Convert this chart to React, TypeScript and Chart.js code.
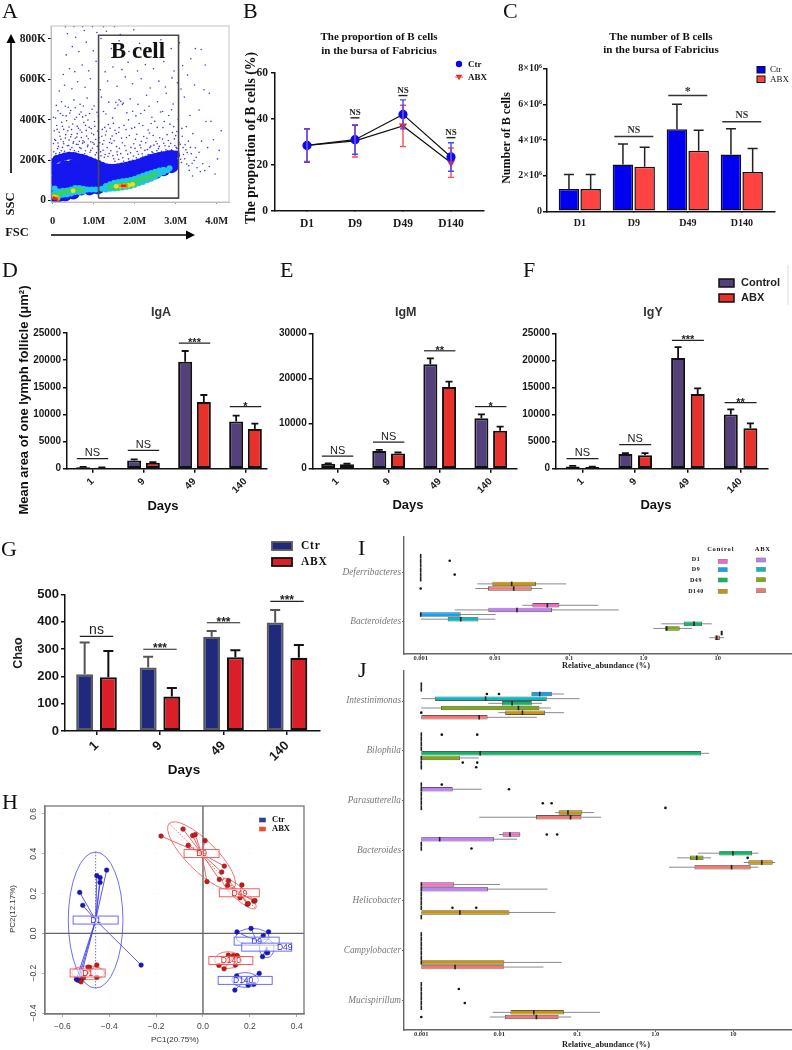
import React, { useEffect, useRef } from 'react';
import { Chart, registerables, CategoryScale } from 'chart.js';

Chart.register(...registerables);

// Category scale whose bands can be placed independently of the axis extent.
class PinnedCategory extends (CategoryScale as any) {
  static id = 'pinnedCategory';
  static defaults = (CategoryScale as any).defaults;
  configure() {
    super.configure();
    const o = (this as any).options;
    if (o.startVal !== undefined) {
      (this as any)._startValue = o.startVal;
      (this as any)._valueRange = o.rangeVal;
    }
  }
}
Chart.register(PinnedCategory as any);

const SERIF = '"Liberation Serif"';
const SANS = '"Liberation Sans"';

/* ---------- Panel A: flow cytometry ---------- */
const gateFSC = [1.12, 3.07, 3.07, 1.12, 1.12];
const gateSSC = [12, 12, 818, 818, 12];
const redCore = [[1.7, 73], [1.76, 73], [0.05, 9], [0.09, 8], [0.03, 14]];
const orangeCore = [[1.65, 72], [1.72, 72], [1.8, 74], [0.04, 12], [0.1, 12], [0.14, 8]];
const yellowCore = [[1.55, 70], [1.65, 70], [1.75, 72], [1.85, 75], [1.95, 80], [0.04, 18], [0.1, 14], [0.5, 48]];
const greenCore = [[0.3, 45], [0.4, 48], [0.5, 52], [0.6, 52], [0.7, 52], [0.05, 30], [0.12, 25], [0.2, 35], [1.4, 68], [1.5, 72], [1.6, 76], [1.7, 80], [1.8, 82], [1.9, 88], [2.0, 93], [2.1, 100], [2.2, 108], [2.3, 114], [2.4, 122], [2.5, 130], [1.5, 65], [1.6, 65], [1.7, 68], [1.8, 70], [1.9, 75], [2.0, 80]];
const cyanCore = [[0.05, 60], [0.05, 35], [0.15, 45], [0.15, 22], [0.25, 48], [0.25, 28], [0.35, 50], [0.35, 30], [0.45, 55], [0.45, 35], [0.55, 62], [0.55, 42], [0.65, 62], [0.65, 42], [0.75, 58], [0.75, 45], [0.85, 55], [0.95, 55], [1.05, 55], [1.2, 58], [1.3, 55], [1.3, 72], [1.4, 58], [1.4, 80], [1.5, 60], [1.5, 88], [1.6, 62], [1.6, 92], [1.7, 65], [1.7, 95], [1.8, 68], [1.8, 98], [1.9, 72], [1.9, 102], [2.0, 78], [2.0, 108], [2.1, 85], [2.1, 115], [2.2, 92], [2.2, 122], [2.3, 100], [2.3, 130], [2.4, 108], [2.4, 136], [2.5, 118], [2.5, 142], [2.6, 130], [2.6, 148], [2.7, 140], [2.7, 152], [2.8, 150], [2.85, 160]];
const blueEdge = [[0.0, 190], [0.1, 205], [0.2, 212], [0.3, 218], [0.4, 222], [0.5, 220], [0.6, 215], [0.7, 212], [0.8, 205], [0.9, 198], [1.0, 190], [1.1, 182], [1.2, 172], [1.3, 165], [1.4, 162], [1.5, 162], [1.6, 165], [1.7, 168], [1.8, 172], [1.9, 178], [2.0, 182], [2.1, 188], [2.2, 195], [2.3, 203], [2.4, 210], [2.5, 216], [2.6, 220], [2.7, 224], [2.8, 228], [2.9, 230], [3.0, 228]];
const blueCore = [[0.1, 150], [0.1, 100], [0.1, 50], [0.1, 20], [0.3, 165], [0.3, 110], [0.3, 60], [0.3, 30], [0.5, 170], [0.5, 115], [0.5, 60], [0.5, 40], [0.7, 165], [0.7, 110], [0.7, 60], [0.9, 155], [0.9, 105], [0.9, 60], [1.1, 140], [1.1, 95], [1.1, 65], [1.3, 125], [1.3, 85], [1.5, 125], [1.5, 85], [1.7, 130], [1.7, 95], [1.9, 140], [1.9, 105], [2.1, 150], [2.1, 115], [2.3, 165], [2.3, 125], [2.5, 175], [2.5, 140], [2.7, 185], [2.7, 155], [2.9, 190], [2.9, 170]];
const fuzzEvents = [
  [0.03, 241], [0.12, 257], [0.17, 236], [0.24, 263], [0.29, 244], [0.36, 271], [0.41, 238], [0.47, 262], [0.53, 247], [0.58, 278], [0.63, 243], [0.69, 258], [0.73, 284], [0.8, 246], [0.85, 267], [0.91, 239], [0.97, 259], [1.01, 279], [1.07, 237], [1.12, 254], [1.18, 221], [1.23, 249], [1.28, 228], [1.35, 218], [1.42, 246], [1.47, 222], [1.52, 194], [1.57, 241], [1.61, 203], [1.66, 232], [1.73, 194], [1.79, 247], [1.85, 206], [1.9, 236], [1.95, 199], [2.01, 258], [2.04, 212], [2.09, 229], [2.15, 261], [2.2, 219], [2.25, 248], [2.33, 227], [2.37, 262], [2.42, 241], [2.47, 274], [2.54, 246], [2.6, 268], [2.65, 244], [2.71, 283], [2.76, 251], [2.84, 268], [2.9, 251], [2.98, 272], [3.03, 258], [3.09, 221], [3.14, 188], [3.18, 262], [3.22, 207], [3.28, 238], [3.32, 172],
  [0.02, 282], [0.07, 297], [0.13, 285], [0.2, 303], [0.26, 291], [0.32, 326], [0.4, 299], [0.44, 316], [0.5, 284], [0.55, 308], [0.6, 331], [0.65, 293], [0.7, 312], [0.77, 289], [0.82, 347], [0.87, 306], [0.93, 291], [1.0, 326], [1.05, 302], [1.1, 344], [1.15, 286], [1.2, 318], [1.25, 297], [1.31, 343], [1.39, 287], [1.45, 319], [1.5, 296], [1.56, 267], [1.61, 338], [1.7, 286], [1.8, 312], [1.98, 281], [2.05, 328], [2.16, 293], [2.3, 308], [2.45, 322], [2.55, 281], [2.68, 304], [2.82, 297], [2.92, 337], [3.0, 321], [3.11, 278], [3.25, 251], [3.36, 263], [3.4, 184], [3.5, 214],
  [0.04, 345], [0.1, 371], [0.16, 338], [0.22, 387], [0.27, 352], [0.34, 395], [0.4, 364], [0.46, 351], [0.54, 402], [0.6, 367], [0.67, 349], [0.73, 414], [0.8, 372], [0.86, 398], [0.94, 356], [1.03, 368], [1.12, 389], [1.27, 362], [1.4, 358], [1.48, 382], [1.62, 361], [1.79, 351], [1.85, 399], [2.0, 362], [2.2, 371], [2.4, 381], [2.55, 362], [2.72, 391], [2.95, 366], [3.15, 357],
  [0.02, 412], [0.13, 444], [0.25, 421], [0.31, 467], [0.42, 433], [0.55, 459], [0.65, 427], [0.75, 468], [0.9, 431], [1.08, 437], [1.3, 428], [1.52, 456], [1.62, 498], [1.7, 476], [1.95, 442], [2.15, 431], [2.35, 467], [2.68, 441], [2.9, 449],
];
const sparseEvents = [
  [0.08, 232], [0.21, 246], [0.34, 228], [0.43, 252], [0.57, 239], [0.66, 262], [0.78, 231], [0.93, 248], [1.04, 226], [1.17, 241], [1.26, 214], [1.38, 233], [1.49, 207], [1.58, 226], [1.71, 212], [1.83, 229], [1.97, 220], [2.06, 243], [2.18, 231], [2.31, 252], [2.44, 238], [2.58, 257], [2.67, 229], [2.81, 246], [2.93, 222], [3.04, 239], [3.12, 204], [3.19, 228], [3.27, 181], [3.33, 149],
  [0.14, 268], [0.27, 281], [0.39, 272], [0.51, 291], [0.62, 277], [0.74, 296], [0.86, 274], [0.98, 287], [1.09, 268], [1.22, 279], [1.33, 262], [1.44, 283], [1.63, 259], [1.76, 271], [1.91, 263], [2.13, 274], [2.27, 286], [2.39, 269], [2.52, 292], [2.74, 271], [2.88, 283], [3.01, 263], [3.23, 276], [3.38, 231], [3.45, 198], [3.52, 162], [3.6, 143], [3.41, 121],
  [0.05, 302], [0.18, 318], [0.31, 309], [0.46, 327], [0.59, 314], [0.71, 338], [0.83, 319], [0.95, 333], [1.13, 311], [1.29, 324], [1.41, 305], [1.55, 331], [1.68, 309], [1.87, 322], [2.02, 303], [2.22, 317], [2.36, 334], [2.61, 311], [2.79, 326], [2.97, 305], [3.08, 287], [3.16, 318], [3.31, 294], [3.48, 261], [3.57, 239], [3.66, 182], [3.71, 148], [3.82, 168], [3.96, 131], [4.02, 206],
  [0.11, 352], [0.24, 368], [0.37, 345], [0.49, 379], [0.63, 358], [0.76, 386], [0.89, 362], [1.02, 391], [1.21, 352], [1.36, 376], [1.52, 348], [1.74, 372], [1.93, 357], [2.11, 381], [2.33, 349], [2.49, 392], [2.69, 361], [2.86, 378], [3.03, 342], [3.26, 366], [3.42, 331], [3.63, 294], [3.78, 262], [3.92, 301], [4.06, 248], [4.11, 345], [3.86, 392],
  [0.07, 408], [0.19, 431], [0.33, 419], [0.44, 446], [0.58, 412], [0.69, 438], [0.81, 421], [0.96, 452], [1.11, 417], [1.24, 441], [1.46, 409], [1.59, 473], [1.66, 491], [1.54, 486], [1.72, 482], [1.81, 434], [2.03, 419], [2.24, 447], [2.42, 412], [2.63, 438], [2.83, 421], [3.06, 402], [3.35, 421], [3.57, 448], [3.74, 391],
  [0.09, 471], [0.22, 489], [0.38, 462], [0.52, 498], [0.67, 476], [0.84, 507], [1.01, 468], [1.19, 512], [1.37, 487], [1.89, 503], [2.08, 476], [2.29, 521], [2.56, 489], [2.77, 531], [2.94, 478], [3.21, 512], [3.69, 548], [3.82, 531], [3.46, 572],
  [0.16, 542], [0.29, 571], [0.47, 553], [0.61, 588], [0.79, 561], [0.92, 603], [1.16, 548], [1.34, 592], [1.57, 566], [1.77, 612], [1.95, 578], [2.16, 603], [2.38, 557], [2.59, 591], [2.75, 562], [2.91, 607], [3.04, 583], [3.29, 621], [3.13, 552],
  [0.26, 624], [0.41, 652], [0.54, 638], [0.72, 671], [0.88, 642], [1.06, 689], [1.28, 637], [1.47, 661], [1.69, 648], [1.84, 684], [2.07, 641], [2.26, 673], [2.46, 652], [2.71, 688], [2.96, 641], [3.17, 668], [3.37, 702], [3.72, 671],
  [0.33, 721], [0.48, 762], [0.64, 738], [0.82, 784], [0.99, 741], [1.18, 802], [1.43, 752], [1.62, 791], [1.86, 738], [2.12, 778], [2.35, 745], [2.64, 796], [2.89, 752], [3.09, 781], [3.48, 752], [3.62, 748],
  [0.36, 826], [0.56, 808], [0.77, 842], [1.08, 832], [1.31, 838], [1.65, 822], [1.98, 845], [0.31, 860], [0.52, 861], [0.73, 860], [0.97, 861], [1.24, 860], [1.51, 861],
];

/* ---------- Panel B ---------- */
const dayLabels = ['D1', 'D9', 'D49', 'D140'];
const propCtr = [28.5, 31, 42, 23.5];
const propAbx = [28.5, 30.5, 37, 21];
const propCtrErr = [7.3, 6.3, 6.3, 6.2];
const propAbxErr = [7, 7, 9, 6.4];
const propSig = [[1, 40.5, 4.5, 'NS'], [2, 50.2, 4.5, 'NS'], [3, 31.9, 4.5, 'NS']];
const propTicks = [0, 20, 40, 60];

/* ---------- Panel C ---------- */
const numCtr = [1.25, 2.62, 4.6, 3.18];
const numAbx = [1.25, 2.5, 3.4, 2.2];
const numCtrErr = [0.81, 1.15, 1.4, 1.45];
const numAbxErr = [0.81, 1.09, 1.14, 1.33];
const numSig = [[1, 4.19, 19.5, 'NS'], [2, 6.49, 19.5, '*'], [3, 5.03, 19.5, 'NS']];
const numTickLabels: Record<number, string> = { 0: '0', 2: '2×10⁶', 4: '4×10⁶', 6: '6×10⁶', 8: '8×10⁶' };

/* ---------- Panels D, E, F ---------- */
const followDays = ['1', '9', '49', '140'];
const igaCtl = [250, 1500, 19700, 8700];
const igaAbx = [180, 1100, 12300, 7300];
const igaCtlErr = [100, 200, 1980, 1066];
const igaAbxErr = [80, 120, 1275, 1000];
const igaSig = [[0, 1840, 15.7, 'NS'], [1, 3380, 15.7, 'NS'], [2, 23150, 15.7, '***'], [3, 11420, 15.7, '*']];
const igmCtl = [1100, 3930, 23200, 11200];
const igmAbx = [1000, 3400, 18150, 8440];
const igmCtlErr = [100, 270, 1300, 870];
const igmAbxErr = [100, 200, 1180, 890];
const igmSig = [[0, 2800, 15.7, 'NS'], [1, 5900, 15.7, 'NS'], [2, 26200, 15.7, '**'], [3, 13800, 15.7, '*']];
const igyCtl = [430, 2700, 20500, 10060];
const igyAbx = [300, 2470, 13830, 7470];
const igyCtlErr = [100, 200, 2000, 930];
const igyAbxErr = [80, 400, 1050, 930];
const igySig = [[0, 1850, 16, 'NS'], [1, 4440, 16, 'NS'], [2, 23770, 16, '***'], [3, 12220, 16, '**']];

/* ---------- Panel G ---------- */
const chaoCtr = [208, 232, 345, 397];
const chaoAbx = [197, 126, 270, 268];
const chaoCtrErr = [116, 40, 21, 46];
const chaoAbxErr = [96, 31, 25, 47];
const chaoSig = [[0, 346, 16.7, 'ns'], [1, 299, 16.7, '***'], [2, 396, 16.7, '***'], [3, 474, 16.7, '***']];

/* ---------- Panel H: PCA ---------- */
const pcaCtrD1 = [[-0.411, 0.318], [-0.453, 0.29], [-0.439, 0.28], [-0.439, 0.256], [-0.526, 0.206], [-0.513, 0.141], [-0.264, -0.159], [-0.533, -0.235], [-0.526, -0.238], [-0.54, -0.231]];
const pcaAbxD1 = [[-0.453, -0.159], [-0.484, -0.171], [-0.51, -0.223], [-0.52, -0.243], [-0.453, -0.221], [-0.49, -0.17]];
const pcaAbxD9 = [[-0.179, 0.489], [-0.085, 0.524], [-0.044, 0.491], [-0.033, 0.496], [-0.063, 0.442], [0.009, 0.466], [0.091, 0.338], [0.08, 0.308], [0.07, 0.271], [0.017, 0.26]];
const pcaAbxD49 = [[0.109, 0.265], [0.105, 0.241], [0.166, 0.243], [0.158, 0.179], [0.189, 0.146], [0.193, 0.149], [0.217, 0.162], [0.222, 0.164]];
const pcaCtrD9 = [[0.145, 0.007], [0.205, 0.025], [0.257, -0.012], [0.28, 0.008]];
const pcaCtrD49 = [[0.254, -0.117], [0.272, -0.097], [0.276, -0.097]];
const pcaAbxD140 = [[0.108, -0.109], [0.146, -0.112], [0.068, -0.161], [0.09, -0.178], [0.138, -0.159], [0.129, -0.112]];
const pcaCtrD140 = [[0.24, -0.201], [0.136, -0.285], [0.193, -0.26], [0.144, -0.214], [0.217, -0.256]];
// centre x, centre y, semi-axis (x units), semi-axis (y units), tilt in degrees
const pcaEllipseD1Ctr = [-0.458, 0.067, 0.1166, 0.342, 0];
const pcaEllipseD1Abx = [-0.49, -0.198, 0.07, 0.035, 0];
const pcaEllipseD9Abx = [-0.006, 0.39, 0.195, 0.075, 45];
const pcaEllipseD49Abx = [0.155, 0.2, 0.094, 0.03, 42];
const pcaEllipseD9Ctr = [0.211, -0.017, 0.071, 0.042, 0];
const pcaEllipseD49Ctr = [0.272, -0.075, 0.031, 0.047, 0];
const pcaEllipseD140Abx = [0.107, -0.134, 0.057, 0.042, 0];
const pcaEllipseD140Ctr = [0.18, -0.234, 0.057, 0.037, 0];
const pcaCentres: [string, number, number, number, string, number?][] = [
  ['D1', -0.458, 0.067, 45, 'b'],
  ['D1', -0.492, -0.199, 35, 'r'],
  ['D9', -0.006, 0.401, 35, 'r'],
  ['D49', 0.155, 0.204, 40, 'r'],
  ['D9', 0.229, -0.039, 45, 'b'],
  ['D49', 0.272, -0.069, 50, 'b', 18],
  ['D140', 0.119, -0.136, 44, 'r'],
  ['D140', 0.18, -0.236, 54, 'b', -2],
];
const pcaYTicks = [0.6, 0.4, 0.2, 0, -0.2, -0.4];

/* ---------- Panels I, J: box plots. [whisker low, Q1, median, Q3, whisker high, outliers?] ---------- */
const absent = [0.001, 0.001, 0.001, 0.001, 0.001];
const groupNames = ['D1 Control', 'D1 ABX', 'D9 Control', 'D9 ABX', 'D49 Control', 'D49 ABX', 'D140 Control', 'D140 ABX'];
const groupColors = ['#FF61CC', '#C77CFF', '#00A9FF', '#00BFC4', '#00BE67', '#7CAE00', '#CD9600', '#F8766D'];

const phylaNames = ['Deferribacteres', 'Bacteroidetes'];
const phylaD1Ctl = [absent, [0.0234, 0.0319, 0.0508, 0.0738, 0.247]];
const phylaD1Abx = [[0.001, 0.001, 0.001, 0.001, 0.001, [0.00246]], [0.00287, 0.00815, 0.0198, 0.0587, 0.465]];
const phylaD9Ctl = [absent, [0.001, 0.001, 0.001, 0.00346, 0.0102]];
const phylaD9Abx = [absent, [0.001, 0.00231, 0.00346, 0.00598, 0.0101]];
const phylaD49Ctl = [[0.001, 0.001, 0.001, 0.001, 0.001, [0.00287]], [1.74, 3.48, 4.8, 6.15, 8.3]];
const phylaD49Abx = [absent, [1.36, 1.95, 2.06, 3.08, 4.5]];
const phylaD140Ctl = [[0.0058, 0.00923, 0.0168, 0.0357, 0.0906], [11.3, 10.9, 11.3, 11.7, 11.3]];
const phylaD140Abx = [[0.00544, 0.00807, 0.0179, 0.0313, 0.0436, [0.001]], [7.7, 9.1, 9.7, 10.7, 12.2]];

const genusNames = ['Intestinimonas', 'Bilophila', 'Parasutterella', 'Bacteroides', 'Helicobacter', 'Campylobacter', 'Mucispirillum'];
const genusD1Ctl = [absent, [0.001, 0.001, 0.001, 0.001, 0.001, [0.00183, 0.00521]], [0.001, 0.001, 0.001, 0.001, 0.001, [0.00183]], [0.00991, 0.011, 0.0137, 0.0186, 0.0186, [0.0406, 0.0552]], [0.001, 0.001, 0.001, 0.00264, 0.0102], absent, absent];
const genusD1Abx = [absent, absent, [0.001, 0.001, 0.001, 0.00253, 0.00593, [0.0133]], [0.001, 0.001, 0.00172, 0.00853, 0.0169], [0.001, 0.001, 0.001, 0.00714, 0.0415], absent, [0.001, 0.001, 0.001, 0.001, 0.001, [0.00303]]];
const genusD9Ctl = [[0.0258, 0.0258, 0.033, 0.0472, 0.0673, [0.00693, 0.00991]], absent, absent, absent, absent, absent, absent];
const genusD9Abx = [[0.001, 0.00149, 0.00667, 0.0406, 0.107], absent, absent, [0.001, 0.001, 0.001, 0.001, 0.001, [0.0044]], absent, absent, absent];
const genusD49Ctl = [[0.00721, 0.0108, 0.0146, 0.0261, 0.0351], [0.001, 0.001, 0.00569, 3.87, 4.91], [0.001, 0.001, 0.001, 0.001, 0.001, [0.0361, 0.0468]], [3.54, 6.6, 9.9, 17.4, 21], absent, absent, [0.001, 0.001, 0.001, 0.001, 0.001, [0.00361]]];
const genusD49Abx = [[0.001, 0.00179, 0.0176, 0.0327, 0.0458], [0.001, 0.001, 0.001, 0.00315, 0.00547], [0.001, 0.001, 0.001, 0.001, 0.001, [1.35]], [1.9, 2.79, 3.4, 4.15, 5.2, [15.3]], [0.001, 0.001, 0.001, 0.001, 0.001, [0.00251, 0.00506]], absent, absent];
const genusD140Ctl = [[0.00971, 0.0119, 0.0198, 0.0387, 0.0673, [0.001]], [0.001, 0.001, 0.001, 0.001, 0.001, [0.0034, 0.00521]], [0.0521, 0.0575, 0.0759, 0.116, 0.164], [13.6, 15.6, 23.2, 32, 34.4], [0.001, 0.001, 0.00312, 0.0135, 0.0526], [0.001, 0.001, 0.001, 0.0116, 0.0628], [0.0082, 0.0139, 0.0277, 0.0673, 0.196]];
const genusD140Abx = [[0.001, 0.001, 0.00552, 0.00708, 0.0303], [0.001, 0.001, 0.001, 0.001, 0.001, [0.00506]], [0.00552, 0.0296, 0.082, 0.113, 0.202], [1.5, 3.18, 9.5, 16.7, 21], absent, [0.001, 0.001, 0.00271, 0.0114, 0.0369], [0.00759, 0.0118, 0.0299, 0.0575, 0.0837, [0.001]]];

const abundanceTicks = [0.001, 0.01, 0.1, 1, 10];
const abundanceLabels = ['0.001', '0.01', '0.1', '1.0', '10'];

/* ---------- helpers ---------- */
type Rect = { x: number; y: number; w: number; h: number };

const T = (text: string, x: number, y: number, font: string, o: any = {}) => ({ k: 't', text, x, y, font, ...o });
const L = (x1: number, y1: number, x2: number, y2: number, color = '#111', w = 1) => ({ k: 'l', x1, y1, x2, y2, color, w });
const B = (x: number, y: number, w: number, h: number, fill: string, stroke: string, lw = 1.5) => ({ k: 'r', x, y, w, h, fill, stroke, lw });
const Arrow = (x1: number, y1: number, x2: number, y2: number) => ({ k: 'a', x1, y1, x2, y2 });
const Mark = (shape: string, x: number, y: number, r: number, color: string) => ({ k: 'm', shape, x, y, r, color });
const letter = (s: string, x: number, y: number) => T(s, x, y, `22px ${SERIF}`, { align: 'left' });

function drawDeco(ctx: CanvasRenderingContext2D, rect: Rect, items: any[]) {
  ctx.save();
  ctx.translate(-rect.x, -rect.y);
  for (const d of items) {
    ctx.save();
    if (d.k === 't') {
      ctx.font = d.font;
      ctx.fillStyle = d.color || '#111';
      ctx.textAlign = d.align || 'center';
      ctx.textBaseline = 'middle';
      if (d.spacing) (ctx as any).letterSpacing = d.spacing;
      ctx.translate(d.x, d.y);
      if (d.rot) ctx.rotate((d.rot * Math.PI) / 180);
      ctx.fillText(d.text, 0, 0);
    } else if (d.k === 'l') {
      ctx.strokeStyle = d.color;
      ctx.lineWidth = d.w;
      ctx.beginPath();
      ctx.moveTo(d.x1, d.y1);
      ctx.lineTo(d.x2, d.y2);
      ctx.stroke();
    } else if (d.k === 'r') {
      ctx.fillStyle = d.fill;
      ctx.strokeStyle = d.stroke;
      ctx.lineWidth = d.lw;
      ctx.fillRect(d.x, d.y, d.w, d.h);
      ctx.strokeRect(d.x, d.y, d.w, d.h);
    } else if (d.k === 'a') {
      const a = Math.atan2(d.y2 - d.y1, d.x2 - d.x1);
      ctx.strokeStyle = '#000';
      ctx.fillStyle = '#000';
      ctx.lineWidth = 1.6;
      ctx.beginPath();
      ctx.moveTo(d.x1, d.y1);
      ctx.lineTo(d.x2, d.y2);
      ctx.stroke();
      ctx.translate(d.x2, d.y2);
      ctx.rotate(a);
      ctx.beginPath();
      ctx.moveTo(3, 0);
      ctx.lineTo(-6, -4.5);
      ctx.lineTo(-6, 4.5);
      ctx.closePath();
      ctx.fill();
    } else if (d.k === 'm') {
      ctx.fillStyle = d.color;
      ctx.beginPath();
      if (d.shape === 'circle') {
        ctx.arc(d.x, d.y, d.r, 0, Math.PI * 2);
      } else {
        ctx.moveTo(d.x - d.r, d.y - d.r * 0.7);
        ctx.lineTo(d.x + d.r, d.y - d.r * 0.7);
        ctx.lineTo(d.x, d.y + d.r);
        ctx.closePath();
      }
      ctx.fill();
    }
    ctx.restore();
  }
  ctx.restore();
}

function kit(cfg: any) {
  return {
    id: 'kit',
    beforeDatasetsDraw(chart: any) {
      const { ctx, chartArea: a, scales } = chart;
      ctx.save();
      if (cfg.crossAt) {
        ctx.strokeStyle = '#666';
        ctx.lineWidth = 1.4;
        ctx.beginPath();
        const px = scales.x.getPixelForValue(0);
        const py = scales.y.getPixelForValue(0);
        ctx.moveTo(px, a.top);
        ctx.lineTo(px, a.bottom);
        ctx.moveTo(a.left, py);
        ctx.lineTo(a.right, py);
        ctx.stroke();
      }
      for (const [el, col, axisDash] of cfg.ellipses || []) {
        const cx = scales.x.getPixelForValue(el[0]);
        const cy = scales.y.getPixelForValue(el[1]);
        const rx = Math.abs(scales.x.getPixelForValue(el[2]) - scales.x.getPixelForValue(0));
        const ry = Math.abs(scales.y.getPixelForValue(el[3]) - scales.y.getPixelForValue(0));
        ctx.strokeStyle = col;
        ctx.lineWidth = 0.8;
        ctx.beginPath();
        ctx.ellipse(cx, cy, rx, ry, (el[4] * Math.PI) / 180, 0, Math.PI * 2);
        ctx.stroke();
        if (axisDash) {
          ctx.save();
          ctx.setLineDash([1.5, 1.5]);
          ctx.translate(cx, cy);
          ctx.rotate((el[4] * Math.PI) / 180);
          ctx.beginPath();
          if (rx > ry) {
            ctx.moveTo(-rx, 0);
            ctx.lineTo(rx, 0);
          } else {
            ctx.moveTo(0, -ry);
            ctx.lineTo(0, ry);
          }
          ctx.stroke();
          ctx.restore();
        }
      }
      chart.data.datasets.forEach((ds: any) => {
        if (!ds.spider) return;
        const cx = scales.x.getPixelForValue(ds.spider[0]);
        const cy = scales.y.getPixelForValue(ds.spider[1]);
        ctx.strokeStyle = ds.spiderColor;
        ctx.lineWidth = 0.9;
        for (const p of ds.data) {
          ctx.beginPath();
          ctx.moveTo(cx, cy);
          ctx.lineTo(scales.x.getPixelForValue(p.x), scales.y.getPixelForValue(p.y));
          ctx.stroke();
        }
      });
      // box-plot whiskers lie under the boxes
      chart.data.datasets.forEach((ds: any, i: number) => {
        if (!ds.box) return;
        const meta = chart.getDatasetMeta(i);
        ctx.strokeStyle = '#8a8a8a';
        ctx.lineWidth = 1;
        ds.box.forEach((b: any, j: number) => {
          if (b[0] === b[4]) return;
          const y = meta.data[j].y;
          ctx.beginPath();
          ctx.moveTo(scales.x.getPixelForValue(b[0]), y);
          ctx.lineTo(scales.x.getPixelForValue(b[4]), y);
          ctx.stroke();
        });
      });
      ctx.restore();
    },
    afterDatasetsDraw(chart: any) {
      const { ctx, scales, chartArea: a } = chart;
      ctx.save();
      [...chart.data.datasets].reverse().forEach((ds: any) => {
        const i = chart.data.datasets.indexOf(ds);
        const meta = chart.getDatasetMeta(i);
        if (ds.err) {
          ctx.strokeStyle = ds.errColor || '#111';
          ctx.lineWidth = ds.errWidth || 1.5;
          ds.err.forEach((e: number, j: number) => {
            const x = meta.data[j].x;
            const v = ds.data[j];
            const hi = scales.y.getPixelForValue(v + e);
            const lo = ds.errBoth ? scales.y.getPixelForValue(v - e) : scales.y.getPixelForValue(v);
            const c = ds.cap ?? 3;
            ctx.beginPath();
            ctx.moveTo(x, lo);
            ctx.lineTo(x, hi);
            ctx.moveTo(x - c, hi);
            ctx.lineTo(x + c, hi);
            if (ds.errBoth) {
              ctx.moveTo(x - c, lo);
              ctx.lineTo(x + c, lo);
            }
            ctx.stroke();
          });
        }
        if (ds.box) {
          ds.box.forEach((b: any, j: number) => {
            const el = meta.data[j];
            const h = el.height;
            const mx = scales.x.getPixelForValue(b[2]);
            ctx.strokeStyle = '#222';
            ctx.lineWidth = 1.6;
            ctx.beginPath();
            ctx.moveTo(mx, el.y - h / 2);
            ctx.lineTo(mx, el.y + h / 2);
            ctx.stroke();
            ctx.fillStyle = '#111';
            for (const o of b[5] || []) {
              ctx.beginPath();
              ctx.arc(scales.x.getPixelForValue(o), el.y, 1.3, 0, Math.PI * 2);
              ctx.fill();
            }
          });
        }
      });
      for (const [cat, val, half, label] of cfg.sig || []) {
        const cx = scales.x.getPixelForValue(cat);
        const y = scales.y.getPixelForValue(val);
        ctx.strokeStyle = cfg.sigColor || '#222';
        ctx.lineWidth = cfg.sigWidth || 1.2;
        ctx.beginPath();
        ctx.moveTo(cx - half, y);
        ctx.lineTo(cx + half, y);
        ctx.stroke();
        const star = label.startsWith('*');
        ctx.font = star ? cfg.starFont : cfg.sigFont;
        ctx.fillStyle = cfg.sigColor || '#222';
        ctx.textAlign = 'center';
        ctx.textBaseline = 'alphabetic';
        ctx.fillText(label, cx, y + (star ? cfg.starDy ?? 3 : cfg.sigDy ?? -2.5));
      }
      for (const [name, x, yv, w, tone, shift] of cfg.tags || []) {
        const cx = scales.x.getPixelForValue(x);
        const cy = scales.y.getPixelForValue(yv);
        const col = tone === 'b' ? '#5a5af5' : '#f05050';
        ctx.fillStyle = 'rgba(255,255,255,0.55)';
        ctx.strokeStyle = col;
        ctx.lineWidth = 0.9;
        ctx.fillRect(cx - w / 2, cy - 4, w, 8);
        ctx.strokeRect(cx - w / 2, cy - 4, w, 8);
        ctx.fillStyle = tone === 'b' ? '#3030e0' : '#e02020';
        ctx.font = `8.5px ${SANS}`;
        ctx.textAlign = 'center';
        ctx.textBaseline = 'middle';
        ctx.fillText(name, cx + (shift || 0), cy + 0.5);
      }
      if (cfg.frame) {
        ctx.strokeStyle = cfg.frame[0];
        ctx.lineWidth = cfg.frame[1];
        ctx.strokeRect(a.left, a.top, a.right - a.left, a.bottom - a.top);
      }
      if (cfg.yTickTexts) {
        ctx.font = `8.5px ${SANS}`;
        ctx.fillStyle = '#444';
        ctx.textAlign = 'center';
        ctx.textBaseline = 'middle';
        for (const v of cfg.yTickTexts) {
          ctx.save();
          ctx.translate(a.left - 11, scales.y.getPixelForValue(v));
          ctx.rotate(-Math.PI / 2);
          ctx.fillText(v.toFixed(1).replace('-', '−'), 0, 0);
          ctx.restore();
        }
      }
      ctx.restore();
    },
    afterDraw(chart: any) {
      drawDeco(chart.ctx, cfg.rect, cfg.deco || []);
    },
  };
}

const fitW = (w: number) => (s: any) => {
  s.width = w;
  s.paddingLeft = s.paddingRight = s.paddingTop = s.paddingBottom = 0;
};
const fitH = (h: number) => (s: any) => {
  s.height = h;
  s.paddingLeft = s.paddingRight = s.paddingTop = s.paddingBottom = 0;
};
const layoutFor = (r: Rect, t: number, right: number) => ({
  autoPadding: false,
  padding: { left: 0, bottom: 0, top: t - r.y, right: r.x + r.w - right },
});
const base = (r: Rect, top: number, right: number) => ({
  responsive: false,
  animation: false,
  layout: layoutFor(r, top, right),
  plugins: { legend: { display: false }, tooltip: { enabled: false } },
});
const catAxis = (r: Rect, left: number, right: number, bottom: number, first: number, sp: number, font: any, o: any = {}) => ({
  type: 'pinnedCategory',
  startVal: (left - first) / sp,
  rangeVal: (right - left) / sp,
  afterFit: fitH(r.y + r.h - bottom),
  grid: { display: true, offset: false, drawOnChartArea: false, drawTicks: true, tickLength: o.tick ?? 4, tickColor: o.color || '#111', lineWidth: 1.5 },
  border: { color: o.color || '#111', width: o.axis ?? 2 },
  ticks: {
    font,
    color: '#1a1a1a',
    padding: o.pad ?? 4,
    autoSkip: false,
    minRotation: o.rot ?? 0,
    maxRotation: o.rot ?? 0,
  },
});
const valAxis = (r: Rect, left: number, min: number, max: number, step: number, font: any, o: any = {}) => ({
  min,
  max,
  afterFit: fitW(left - r.x),
  grid: { display: true, drawOnChartArea: false, drawTicks: true, tickLength: o.tick ?? 4, tickColor: o.color || '#111', lineWidth: 1.5 },
  border: { color: o.color || '#111', width: o.axis ?? 2 },
  ticks: { stepSize: step, includeBounds: false, font, color: '#1a1a1a', padding: o.pad ?? 3, autoSkip: false, callback: o.cb },
});

function Panel({ rect, make }: { rect: Rect; make: () => any }) {
  const ref = useRef<HTMLCanvasElement | null>(null);
  useEffect(() => {
    const chart = new Chart(ref.current as HTMLCanvasElement, make());
    return () => chart.destroy();
  }, []);
  return (
    <canvas
      ref={ref}
      width={rect.w}
      height={rect.h}
      style={{ position: 'absolute', left: rect.x, top: rect.y, width: rect.w, height: rect.h, display: 'block', filter: 'blur(0.35px)' }}
    />
  );
}

const pts = (arr: number[][]) => arr.map(([x, y]) => ({ x, y }));

/* ---------- panel builders ---------- */
const rA = { x: 0, y: 0, w: 238, h: 245 };
const makeA = () => ({
  type: 'scatter',
  data: {
    datasets: [
      { data: gateFSC.map((x, i) => ({ x, y: gateSSC[i] })), showLine: true, borderColor: '#4a4a4a', borderWidth: 1.6, pointRadius: 0 },
      { data: pts(redCore), backgroundColor: '#e8200f', pointRadius: 1.5, borderWidth: 0 },
      { data: pts(orangeCore), backgroundColor: '#f29012', pointRadius: 1.9, borderWidth: 0 },
      { data: pts(yellowCore), backgroundColor: '#e6e22a', pointRadius: 2.4, borderWidth: 0 },
      { data: pts(greenCore), backgroundColor: '#38d060', pointRadius: 2.6, borderWidth: 0 },
      { data: pts(cyanCore), backgroundColor: '#1fc4e6', pointRadius: 3, borderWidth: 0 },
      { data: pts(blueCore), backgroundColor: '#1616ee', pointRadius: 7, borderWidth: 0 },
      { data: pts(blueEdge), backgroundColor: '#1616ee', pointRadius: 4, borderWidth: 0 },
      { data: pts(fuzzEvents), backgroundColor: '#3a3ae0', pointRadius: 0.8, borderWidth: 0 },
      { data: pts(sparseEvents), backgroundColor: '#3a3ae0', pointRadius: 0.8, borderWidth: 0 },
    ],
  },
  options: {
    ...base(rA, 26, 229),
    scales: {
      x: {
        type: 'linear', min: -0.04, max: 4.3, afterFit: fitH(245 - 202),
        grid: { display: true, drawOnChartArea: false, tickLength: 2, tickColor: '#999', lineWidth: 1 },
        border: { color: '#bbb', width: 1 },
        ticks: { stepSize: 1, includeBounds: false, font: { family: SERIF, weight: 'bold', size: 10.5 }, color: '#222', padding: 11, callback: (v: number) => (v === 0 ? '0' : `${v.toFixed(1)}M`) },
      },
      y: {
        type: 'linear', min: -7.4, max: 864, afterFit: fitW(51),
        grid: { display: true, drawOnChartArea: false, tickLength: 3, tickColor: '#111', lineWidth: 1 },
        border: { color: '#bbb', width: 1 },
        ticks: { stepSize: 200, includeBounds: false, font: { family: SERIF, weight: 'bold', size: 11.5 }, color: '#222', padding: 2, callback: (v: number) => (v === 0 ? '0' : `${v}K`) },
      },
    },
  },
  plugins: [kit({
    rect: rA,
    frame: ['#c4c4c4', 1],
    deco: [
      letter('A', 2, 12),
      T('B cell', 138, 52, `bold 23px ${SERIF}`),
      Arrow(11, 173, 11, 37),
      Arrow(51, 235, 192, 235),
      T('SSC', 11, 204, `bold 12.5px ${SERIF}`, { rot: -90 }),
      T('FSC', 17, 233, `bold 12.5px ${SERIF}`),
    ],
  })],
});

const rB = { x: 238, y: 0, w: 262, h: 245 };
const makeB = () => {
  const tf = { family: SERIF, weight: 'bold', size: 11.5 };
  return {
    type: 'line',
    data: {
      labels: dayLabels,
      datasets: [
        { data: propCtr, err: propCtrErr, errBoth: true, errColor: '#4646fa', errWidth: 1.4, cap: 3, borderColor: '#111', borderWidth: 1.2, tension: 0, pointStyle: 'circle', pointRadius: 4, backgroundColor: '#0808f0', pointBorderColor: '#0808f0' },
        { data: propAbx, err: propAbxErr, errBoth: true, errColor: '#ff4d4d', errWidth: 1.4, cap: 3, borderColor: '#111', borderWidth: 1.2, tension: 0, pointStyle: 'triangle', rotation: 180, pointRadius: 3.5, backgroundColor: '#ee2020', pointBorderColor: '#ee2020' },
      ],
    },
    options: {
      ...base(rB, 73, 484),
      scales: {
        x: catAxis(rB, 275, 484, 211, 307, 48, tf, { pad: 6, axis: 1.5, tick: 0 }),
        y: { ...valAxis(rB, 275, 0, 60, 20, tf, { axis: 1.5 }), afterBuildTicks: (s: any) => { s.ticks = propTicks.map((value) => ({ value })); } },
      },
    },
    plugins: [kit({
      rect: rB,
      sig: propSig,
      sigFont: `bold 9px ${SERIF}`,
      starFont: `bold 10px ${SERIF}`,
      sigWidth: 1.4,
      sigDy: -3,
      deco: [
        letter('B', 243, 12),
        T('The proportion of B cells', 379, 37, `bold 11px ${SERIF}`),
        T('in the bursa of Fabricius', 379, 51, `bold 11px ${SERIF}`),
        T('The proportion of B cells (%)', 251, 138, `bold 13.7px ${SERIF}`, { rot: -90 }),
        Mark('circle', 459, 64, 3.2, '#0808f0'),
        T('Ctr', 468, 64.5, `bold 9px ${SERIF}`, { align: 'left' }),
        Mark('tri', 459, 77, 3.2, '#ee2020'),
        L(455, 77, 463, 77, '#ff4d4d', 1),
        T('ABX', 468, 78, `bold 9px ${SERIF}`, { align: 'left' }),
      ],
    })],
  };
};

const rC = { x: 500, y: 0, w: 292, h: 250 };
const makeC = () => {
  const tf = { family: SERIF, weight: 'bold', size: 10 };
  return {
    type: 'bar',
    data: {
      labels: dayLabels,
      datasets: [
        { data: numCtr, err: numCtrErr, cap: 5, errColor: '#222', errWidth: 1.5, backgroundColor: '#0000ee', borderColor: '#111', borderWidth: 1.5, borderSkipped: false, categoryPercentage: 0.804, barPercentage: 0.945 },
        { data: numAbx, err: numAbxErr, cap: 5, errColor: '#222', errWidth: 1.5, backgroundColor: '#ff4242', borderColor: '#111', borderWidth: 1.5, borderSkipped: false, categoryPercentage: 0.804, barPercentage: 0.945 },
      ],
    },
    options: {
      ...base(rC, 68.7, 775),
      scales: {
        x: catAxis(rC, 547, 775, 211.3, 579.8, 54, tf, { pad: 6, axis: 1.5, tick: 0 }),
        y: valAxis(rC, 547, 0, 8, 2, tf, { axis: 1.5, pad: 1, cb: (v: number) => numTickLabels[v] }),
      },
    },
    plugins: [kit({
      rect: rC,
      sig: numSig,
      sigFont: `bold 10px ${SERIF}`,
      starFont: `bold 12px ${SERIF}`,
      sigColor: '#333',
      sigWidth: 1.5,
      sigDy: -4,
      starDy: -1,
      deco: [
        letter('C', 503, 12),
        T('The number of B cells', 661, 37, `bold 11px ${SERIF}`),
        T('in the bursa of Fabricius', 661, 50, `bold 11px ${SERIF}`),
        T('Number of B cells', 507, 138, `bold 12px ${SERIF}`, { rot: -90 }),
        B(757, 66.5, 8, 6.5, '#0000ee', '#111', 1),
        T('Ctr', 770, 70, `9px ${SERIF}`, { align: 'left' }),
        B(757, 76, 8, 6.5, '#ff4242', '#111', 1),
        T('ABX', 770, 79.5, `9px ${SERIF}`, { align: 'left' }),
      ],
    })],
  };
};

const PURPLE = '#54407a';
const REDBAR = '#e8312a';
const igPanel = (r: Rect, o: any) => () => {
  const tf = { family: SANS, weight: 'bold', size: 10 };
  const common = { borderColor: '#111', borderWidth: 2, borderSkipped: false, errColor: '#111', errWidth: 1.8, cap: 3.5, categoryPercentage: o.cp, barPercentage: o.bp };
  return {
    type: 'bar',
    data: {
      labels: followDays,
      datasets: [
        { ...common, data: o.ctl, err: o.ctlErr, backgroundColor: PURPLE },
        { ...common, data: o.abx, err: o.abxErr, backgroundColor: REDBAR },
      ],
    },
    options: {
      ...base(r, o.top, o.right),
      scales: {
        x: catAxis(r, o.left, o.right, 468.7, o.first, o.sp, tf, { rot: 45, pad: 3, axis: 1.5 }),
        y: valAxis(r, o.left, 0, o.max, o.step, tf, { axis: 1.5, pad: 2 }),
      },
    },
    plugins: [kit({
      rect: r,
      sig: o.sig,
      sigFont: `11px ${SANS}`,
      starFont: `bold 11px ${SANS}`,
      sigColor: '#222',
      sigWidth: 1.2,
      deco: o.deco,
    })],
  };
};

const rD = { x: 0, y: 255, w: 272, h: 265 };
const makeD = igPanel(rD, {
  ctl: igaCtl, abx: igaAbx, ctlErr: igaCtlErr, abxErr: igaAbxErr, sig: igaSig,
  left: 67, right: 267, top: 333, first: 92.5, sp: 51, cp: 0.733, bp: 0.75, max: 25000, step: 5000,
  deco: [
    letter('D', 2, 271),
    T('IgA', 161, 313, `bold 12.5px ${SANS}`, { color: '#333' }),
    T('Days', 163, 506, `bold 13px ${SANS}`),
    T('Mean area of one lymph follicle (μm²)', 24, 400, `bold 13px ${SANS}`, { rot: -90 }),
  ],
});
const rE = { x: 272, y: 255, w: 250, h: 265 };
const makeE = igPanel(rE, {
  ctl: igmCtl, abx: igmAbx, ctlErr: igmCtlErr, abxErr: igmAbxErr, sig: igmSig,
  left: 312.7, right: 517, top: 333.7, first: 337.6, sp: 51.05, cp: 0.733, bp: 0.75, max: 30000, step: 10000,
  deco: [
    letter('E', 280, 271),
    T('IgM', 405.7, 313, `bold 12.5px ${SANS}`, { color: '#333' }),
    T('Days', 408, 505, `bold 13px ${SANS}`),
  ],
});
const rF = { x: 522, y: 255, w: 270, h: 265 };
const makeF = igPanel(rF, {
  ctl: igyCtl, abx: igyAbx, ctlErr: igyCtlErr, abxErr: igyAbxErr, sig: igySig,
  left: 556, right: 768, top: 333.7, first: 582.5, sp: 52.7, cp: 0.744, bp: 0.714, max: 25000, step: 5000,
  deco: [
    letter('F', 523, 271),
    T('IgY', 653, 313, `bold 12.5px ${SANS}`, { color: '#333' }),
    T('Days', 656, 505, `bold 13px ${SANS}`),
    B(719, 279, 15, 8, PURPLE, '#111', 1.5),
    T('Control', 741, 283, `bold 11px ${SANS}`, { align: 'left', color: '#222' }),
    B(719, 294, 15, 8, REDBAR, '#111', 1.5),
    T('ABX', 741, 298, `bold 11px ${SANS}`, { align: 'left', color: '#222' }),
    L(788, 265, 788, 305, '#dddddd', 1),
  ],
});

const rG = { x: 0, y: 525, w: 330, h: 262 };
const makeG = () => {
  const tf = { family: SANS, weight: 'bold', size: 13 };
  const shape = { errWidth: 2, cap: 5, borderWidth: 2.2, borderSkipped: false, categoryPercentage: 0.746, barPercentage: 0.717 };
  return {
    type: 'bar',
    data: {
      labels: followDays,
      datasets: [
        { ...shape, data: chaoCtr, err: chaoCtrErr, errColor: '#555', backgroundColor: '#1f2a7c', borderColor: '#5a5a5a' },
        { ...shape, data: chaoAbx, err: chaoAbxErr, errColor: '#111', backgroundColor: '#da1f28', borderColor: '#111' },
      ],
    },
    options: {
      ...base(rG, 594.3, 320),
      scales: {
        x: catAxis(rG, 65, 320, 731, 96.5, 63.5, tf, { rot: 45, pad: 3, axis: 1.5 }),
        y: valAxis(rG, 65, 0, 500, 100, tf, { axis: 1.5, pad: 2 }),
      },
    },
    plugins: [kit({
      rect: rG,
      sig: chaoSig,
      sigFont: `14px ${SANS}`,
      starFont: `bold 12px ${SANS}`,
      sigColor: '#222',
      sigWidth: 1.2,
      sigDy: -2,
      deco: [
        letter('G', 1, 550),
        B(272, 542, 20, 8, '#1f2a7c', '#5a5a5a', 1.8),
        T('Ctr', 301, 546, `bold 11.5px ${SERIF}`, { align: 'left', spacing: '0.8px' }),
        B(272, 558, 20, 8, '#da1f28', '#111', 1.8),
        T('ABX', 301, 562, `bold 11.5px ${SERIF}`, { align: 'left', spacing: '0.8px' }),
        T('Chao', 19, 653, `bold 12.5px ${SANS}`, { rot: -90, color: '#222' }),
        T('Days', 184, 770, `bold 13.5px ${SANS}`),
      ],
    })],
  };
};

const rH = { x: 0, y: 787, w: 330, h: 263 };
const BLUEPT = '#1212d8';
const REDPT = '#d81212';
const makeH = () => {
  const dot = (data: number[][], c: string, spider: number[], spiderColor: string) => ({
    data: pts(data), backgroundColor: c, borderColor: '#333', borderWidth: 0.4, pointRadius: 2.4, spider, spiderColor,
  });
  return {
    type: 'scatter',
    data: {
      datasets: [
        dot(pcaAbxD1, REDPT, [-0.492, -0.199], '#ee5555'),
        dot(pcaCtrD1, BLUEPT, [-0.458, 0.067], '#4545ee'),
        dot(pcaAbxD9, REDPT, [-0.006, 0.401], '#ee5555'),
        dot(pcaAbxD49, REDPT, [0.155, 0.204], '#ee5555'),
        dot(pcaCtrD9, BLUEPT, [0.229, -0.039], '#5555ee'),
        dot(pcaCtrD49, BLUEPT, [0.272, -0.069], '#5555ee'),
        dot(pcaAbxD140, REDPT, [0.119, -0.136], '#ee5555'),
        dot(pcaCtrD140, BLUEPT, [0.18, -0.236], '#5555ee'),
      ],
    },
    options: {
      ...base(rH, 806, 304),
      scales: {
        x: {
          type: 'linear', min: -0.674, max: 0.431, afterFit: fitH(rH.y + rH.h - 1014),
          grid: { color: '#f0f0f0', tickLength: 3, tickColor: '#777', lineWidth: 0.6 },
          border: { color: '#777', width: 1.2, dash: [1, 2] },
          ticks: { stepSize: 0.2, includeBounds: false, font: { family: SANS, size: 8.5 }, color: '#444', padding: 5, callback: (v: number) => v.toFixed(1).replace('-', '−') },
        },
        y: {
          type: 'linear', min: -0.405, max: 0.64, afterFit: fitW(45),
          grid: { color: '#f0f0f0', tickLength: 3, tickColor: '#777', lineWidth: 0.6 },
          border: { color: '#777', width: 1.2, dash: [1, 2] },
          ticks: { stepSize: 0.2, includeBounds: false, display: false },
        },
      },
    },
    plugins: [kit({
      rect: rH,
      frame: ['#777', 1.3],
      crossAt: true,
      ellipses: [
        [pcaEllipseD1Ctr, '#4a4af0', true],
        [pcaEllipseD1Abx, '#ee5050', false],
        [pcaEllipseD9Abx, '#ee5050', true],
        [pcaEllipseD49Abx, '#ee5050', true],
        [pcaEllipseD9Ctr, '#4a4af0', false],
        [pcaEllipseD49Ctr, '#4a4af0', false],
        [pcaEllipseD140Abx, '#ee5050', false],
        [pcaEllipseD140Ctr, '#4a4af0', false],
      ],
      tags: pcaCentres,
      yTickTexts: pcaYTicks,
      deco: [
        letter('H', 2, 803),
        T('PC1(20.75%)', 175, 1040, `8px ${SANS}`, { color: '#333' }),
        T('PC2(12.17%)', 12.7, 909, `8px ${SANS}`, { rot: -90, color: '#333' }),
        B(259.5, 818, 6, 4, '#2a3f9f', '#2a3f9f', 0.6),
        T('Ctr', 272, 820, `bold 8.5px ${SERIF}`, { align: 'left' }),
        B(259.5, 827, 6, 4, '#e8502f', '#e8502f', 0.6),
        T('ABX', 272, 829, `bold 8.5px ${SERIF}`, { align: 'left' }),
      ],
    })],
  };
};

const boxPanel = (r: Rect, o: any) => () => ({
  type: 'bar',
  data: {
    labels: o.names,
    datasets: o.groups.map((g: any[], i: number) => ({
      label: groupNames[i],
      data: g.map((b) => [b[1], b[3]]),
      box: g,
      backgroundColor: groupColors[i],
      borderColor: '#5a5a5a',
      borderWidth: 0.9,
      borderSkipped: false,
      categoryPercentage: o.cp,
      barPercentage: 0.96,
    })),
  },
  options: {
    ...base(r, o.top, 791),
    indexAxis: 'y',
    scales: {
      x: {
        type: 'logarithmic',
        min: o.min,
        max: o.max,
        afterFit: fitH(r.y + r.h - o.bottom),
        afterBuildTicks: (s: any) => { s.ticks = abundanceTicks.map((value) => ({ value })); },
        grid: { display: true, drawOnChartArea: false, tickLength: 2, tickColor: '#666', lineWidth: 1 },
        border: { color: '#666', width: 1.4 },
        ticks: { font: { family: SERIF, weight: 'bold', size: 6.5 }, color: '#333', padding: -2, autoSkip: false, maxRotation: 0, minRotation: 0, callback: (v: number) => abundanceLabels[abundanceTicks.indexOf(v)] },
      },
      y: {
        type: 'pinnedCategory',
        startVal: (o.top - o.first) / o.sp,
        rangeVal: (o.bottom - o.top) / o.sp,
        afterFit: fitW(404 - r.x),
        grid: { display: true, offset: false, drawOnChartArea: false, tickLength: 2, tickColor: '#666', lineWidth: 1 },
        border: { color: '#666', width: 1.4 },
        ticks: { font: { family: SERIF, style: 'italic', size: 9.3 }, color: '#777', padding: 1, autoSkip: false },
      },
    },
  },
  plugins: [kit({ rect: r, deco: o.deco })],
});

const swatch = (cx: number, cy: number, c: string) => B(cx - 4.5, cy - 2, 9, 4, c, '#777', 0.6);
const rI = { x: 330, y: 530, w: 462, h: 145 };
const makeI = boxPanel(rI, {
  names: phylaNames,
  groups: [phylaD1Ctl, phylaD1Abx, phylaD9Ctl, phylaD9Abx, phylaD49Ctl, phylaD49Abx, phylaD140Ctl, phylaD140Abx],
  top: 537, bottom: 654, first: 572.3, sp: 49.2, cp: 0.753, min: 0.000596, max: 97.1,
  deco: [
    letter('I', 358, 549),
    T('Relative_abundance (%)', 606, 666, `bold 8.3px ${SERIF}`, { color: '#222' }),
    T('Control', 720.7, 549, `bold 6.5px ${SERIF}`, { spacing: '0.8px' }),
    T('ABX', 762.7, 549, `bold 6.5px ${SERIF}`, { spacing: '0.8px' }),
    T('D1', 696, 559.5, `bold 6px ${SERIF}`, { spacing: '0.6px' }),
    T('D9', 696, 569.5, `bold 6px ${SERIF}`, { spacing: '0.6px' }),
    T('D49', 696, 580, `bold 6px ${SERIF}`, { spacing: '0.6px' }),
    T('D140', 696, 591, `bold 6px ${SERIF}`, { spacing: '0.6px' }),
    swatch(722.7, 561.3, groupColors[0]), swatch(761, 560, groupColors[1]),
    swatch(722.7, 569.7, groupColors[2]), swatch(761, 569.3, groupColors[3]),
    swatch(722.7, 580, groupColors[4]), swatch(761, 579.7, groupColors[5]),
    swatch(722.7, 591.3, groupColors[6]), swatch(761, 590.7, groupColors[7]),
  ],
});
const rJ = { x: 330, y: 655, w: 462, h: 395 };
const makeJ = boxPanel(rJ, {
  names: genusNames,
  groups: [genusD1Ctl, genusD1Abx, genusD9Ctl, genusD9Abx, genusD49Ctl, genusD49Abx, genusD140Ctl, genusD140Abx],
  top: 671, bottom: 1030, first: 701, sp: 49.95, cp: 0.747, min: 0.000605, max: 54.95,
  deco: [
    letter('J', 358, 671),
    T('Relative_abundance (%)', 606, 1045, `bold 8.3px ${SERIF}`, { color: '#222' }),
  ],
});

const panels: [Rect, () => any][] = [
  [rA, makeA], [rB, makeB], [rC, makeC], [rD, makeD], [rE, makeE], [rF, makeF], [rG, makeG], [rH, makeH], [rI, makeI], [rJ, makeJ],
];

export default function App() {
  useEffect(() => {
    document.body.style.margin = '0';
    document.body.style.background = '#fff';
  }, []);
  return (
    <div style={{ position: 'absolute', left: 0, top: 0, width: 792, height: 1050, overflow: 'hidden', background: '#fff' }}>
      {panels.map(([rect, make], i) => (
        <Panel key={i} rect={rect} make={make} />
      ))}
    </div>
  );
}
